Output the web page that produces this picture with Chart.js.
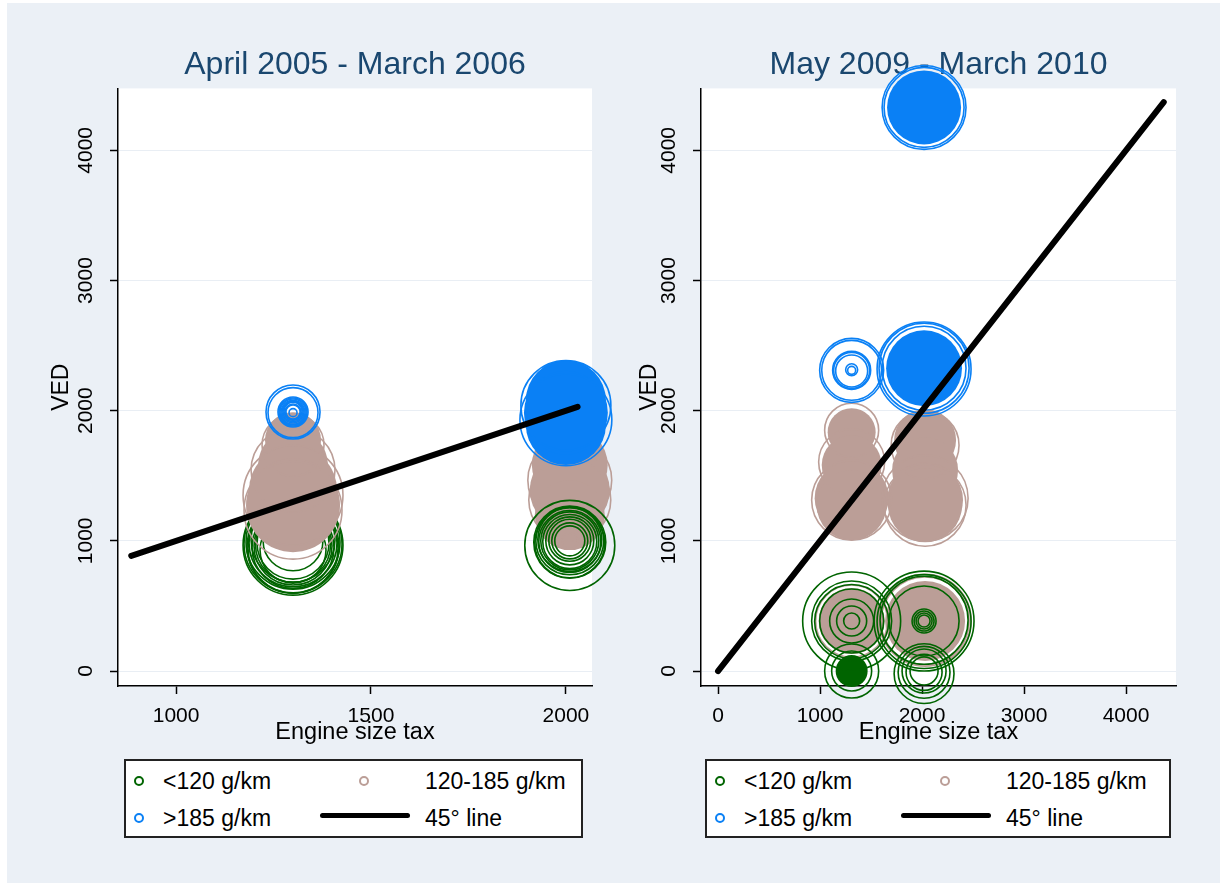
<!DOCTYPE html>
<html>
<head>
<meta charset="utf-8">
<title>VED against engine size tax</title>
<script src="https://cdn.jsdelivr.net/npm/chart.js@4.4.1/dist/chart.umd.min.js"></script>
<style>
  body { margin: 0; background: #fff; font-family: "Liberation Sans", Arial, sans-serif; }
  #page { position: absolute; left: 7px; top: 3px; width: 1213px; height: 880px; background: #ebf0f6; }
  canvas { position: absolute; top: 3px; }
  .key { position: absolute; top: 759px; height: 79px; background: #fff; border: 2px solid #222; box-sizing: border-box; }
  .key span { position: absolute; font-size: 23px; line-height: 26px; color: #000; white-space: nowrap; }
  .key i { position: absolute; width: 10px; height: 10px; border: 2px solid; border-radius: 50%; box-sizing: border-box; }
  .key b { position: absolute; height: 5px; background: #000; border-radius: 3px; }
</style>
</head>
<body>
<div id="page"></div>
<canvas id="c05" width="612" height="750" style="left:7px"></canvas>
<canvas id="c09" width="594" height="750" style="left:619px"></canvas>
<div class="key" id="key05" style="left:124px;width:459px"></div>
<div class="key" id="key09" style="left:705px;width:466px"></div>
<script>
// axis ticks
const yTicks = [0, 1000, 2000, 3000, 4000];
const xTicks05 = [1000, 1500, 2000];
const xTicks09 = [0, 1000, 2000, 3000, 4000];
const yRange = [-115, 4476];
const xRange05 = [851, 2067];
const xRange09 = [-167, 4490];

// 45 degree reference line, start and end
const line05 = [885, 2030];
const line09 = [0, 4370];

// [engine size tax, VED, weight] per group
// April 2005 - March 2006
const low05Back = [[1300, 967, 156], [1300, 990, 138], [1300, 944, 126.6], [1300, 1006, 110],
  [1300, 960, 95], [1300, 983, 81], [1300, 929, 68], [1300, 1000, 56],
  [1300, 975, 150], [1300, 955, 132], [1300, 985, 121], [1300, 950, 105], [1300, 970, 88]];
const mid05Fill = [[1300, 1773, 49], [1300, 1582, 76.6], [1300, 1390, 121], [1300, 1274, 138],
  [2010, 1582, 90], [2010, 1390, 100], [2010, 1198, 76.6]];
const mid05Rings = [[1300, 1351, 156], [1300, 1735, 60], [1300, 1543, 110], [1300, 1236, 150],
  [2010, 1466, 110], [2010, 1313, 105], [2010, 1000, 4]];
const low05Front = [[2010, 965, 126.6], [2010, 990, 81], [2010, 1000, 72], [2010, 1010, 64],
  [2010, 1000, 52.6], [2010, 995, 45.6], [2010, 1000, 36], [2010, 1005, 27.6], [2010, 1000, 20.25],
  [2010, 1000, 14.1], [2010, 985, 76.6], [2010, 995, 60]];
const high05Fill = [[2000, 2080, 100], [2000, 1890, 100], [2000, 1985, 110]];
const high05Rings = [[1300, 1990, 45.6], [1300, 1985, 39], [1300, 1990, 14.1], [1300, 1990, 12.25],
  [1300, 1990, 10.6], [1300, 1988, 9], [1300, 1990, 7.6], [1300, 1992, 6.25], [1300, 1995, 5.1],
  [1300, 1990, 4], [1300, 1990, 3.1], [1300, 1985, 1],
  [2000, 2040, 126.6], [2000, 1930, 132]];

// May 2009 - March 2010
const mid09Fill = [[1310, 1835, 36], [1310, 1582, 56], [1310, 1328, 85.6], [1310, 1274, 76.6],
  [2030, 1774, 60], [2030, 1543, 68], [2030, 1313, 90], [2030, 1274, 85.6],
  [1310, 384, 68], [2030, 384, 100]];
const mid09Rings = [[1310, 1850, 45.6], [1310, 1313, 100], [1310, 1605, 68],
  [2030, 1274, 105], [2030, 1328, 115.6], [2030, 1735, 72],
  [1310, 384, 81], [2030, 384, 121], [2030, 390, 132]];
const low09Fill = [[1310, 0, 16]];
const low09Rings = [[1310, 384, 150], [1310, 384, 100], [1310, 380, 85.6], [1310, 384, 64],
  [1310, 384, 30.25], [1310, 384, 14.1], [1310, 384, 4],
  [1310, 0, 45.6], [1310, 0, 25],
  [2020, 384, 156], [2020, 380, 138], [2020, 390, 121], [2020, 384, 76.6], [2020, 384, 9],
  [2020, 384, 6.25], [2020, 384, 4], [2020, 384, 2.25],
  [2020, -20, 56], [2020, -10, 42], [2020, 0, 30.25], [2020, -10, 20.25], [2020, 0, 12.25]];
const high09Fill = [[2020, 2326, 90], [2020, 4330, 85.6]];
const high09Rings = [[1310, 2310, 64], [1310, 2310, 56], [1310, 2310, 22.6], [1310, 2310, 20.25],
  [1310, 2305, 16], [1310, 2315, 2.25], [1310, 2310, 1],
  [2020, 2326, 110], [2020, 2326, 126.6], [2020, 2320, 138],
  [2020, 4330, 100], [2020, 4330, 110]];

const keyLabels = ['<120 g/km', '120-185 g/km', '>185 g/km', '45\u00b0 line'];

const green = '#006400', rose = '#bb9e97', azure = '#0a80f5';
Chart.defaults.font.family = '"Liberation Sans", Arial, sans-serif';

// marker area grows with the weight
const radius = w => 4 * Math.sqrt(w);

function bubbles(rows, colour, filled, order) {
  return {
    type: 'bubble', order, clip: false,
    data: rows.map(([x, y, w]) => ({ x, y, r: radius(w) })),
    backgroundColor: filled ? colour : 'rgba(0,0,0,0)',
    borderColor: colour,
    borderWidth: filled ? 0 : 1.6
  };
}

function diagonal(ends) {
  return {
    type: 'line', order: 0, clip: false,
    data: ends.map(v => ({ x: v, y: v })),
    borderColor: '#000', borderWidth: 6, borderCapStyle: 'round',
    pointRadius: 0, fill: false
  };
}

// white plot region
const plotBg = {
  id: 'plotBg',
  beforeDraw(chart) {
    const { ctx, chartArea: a } = chart;
    ctx.save();
    ctx.fillStyle = '#fff';
    ctx.fillRect(a.left, a.top, a.right - a.left, a.bottom - a.top);
    ctx.restore();
  }
};

// fixed axis boxes, no extra room for overhanging labels
const fixSize = (w, h) => s => {
  if (w) s.width = w;
  if (h) s.height = h;
  s.paddingLeft = s.paddingRight = s.paddingTop = s.paddingBottom = 0;
};

function panel(id, title, datasets, xRange, xTicks, yWidth, yTitlePad, rightPad) {
  return new Chart(document.getElementById(id), {
    type: 'bubble',
    data: { datasets },
    options: {
      responsive: false, animation: false, events: [],
      layout: { autoPadding: false, padding: { left: 0, right: rightPad, top: 0, bottom: 0 } },
      plugins: {
        legend: { display: false },
        tooltip: { enabled: false },
        title: {
          display: true, text: title, color: '#1a476f', fullSize: false,
          font: { size: 32, weight: 'normal' }, padding: { top: 43, bottom: 4 }
        }
      },
      scales: {
        x: {
          type: 'linear', min: xRange[0], max: xRange[1],
          afterBuildTicks: s => { s.ticks = xTicks.map(v => ({ value: v })); },
          afterFit: fixSize(0, 67),
          grid: { drawOnChartArea: false, tickLength: 8, tickColor: '#000', tickWidth: 1.5 },
          border: { color: '#000', width: 1.5 },
          ticks: { color: '#000', font: { size: 21 }, padding: 10, maxRotation: 0, callback: v => String(v) },
          title: { display: true, text: 'Engine size tax', color: '#000', font: { size: 23.5 },
            padding: { top: 0, bottom: 6 } }
        },
        y: {
          type: 'linear', min: yRange[0], max: yRange[1],
          afterBuildTicks: s => { s.ticks = yTicks.map(v => ({ value: v })); },
          afterFit: fixSize(yWidth, 0),
          grid: { color: '#e9eef4', lineWidth: 1, tickLength: 8, tickColor: '#000', tickWidth: 1.5 },
          border: { color: '#000', width: 1.5 },
          ticks: { color: '#000', font: { size: 21 }, padding: 0, minRotation: 90, maxRotation: 90,
            crossAlign: 'center', callback: v => String(v) },
          title: { display: true, text: 'VED', color: '#000', font: { size: 23 },
            padding: { top: yTitlePad, bottom: 0 } }
        }
      }
    },
    plugins: [plotBg]
  });
}

panel('c05', 'April 2005 - March 2006', [
  bubbles(low05Back, green, false, 7),
  bubbles(mid05Fill, rose, true, 6),
  bubbles(mid05Rings, rose, false, 5),
  bubbles(low05Front, green, false, 4),
  bubbles(high05Fill, azure, true, 3),
  bubbles(high05Rings, azure, false, 2),
  diagonal(line05)
], xRange05, xTicks05, 111, 41, 27);

panel('c09', 'May 2009 - March 2010', [
  bubbles(mid09Fill, rose, true, 7),
  bubbles(mid09Rings, rose, false, 6),
  bubbles(low09Fill, green, true, 5),
  bubbles(low09Rings, green, false, 4),
  bubbles(high09Fill, azure, true, 3),
  bubbles(high09Rings, azure, false, 2),
  diagonal(line09)
], xRange09, xTicks09, 82, 17, 37);

// legend boxes under each panel
function key(id) {
  const box = document.getElementById(id);
  const markers = [[green, 8, 15], [rose, 233, 15], [azure, 8, 52]];
  markers.forEach(([c, l, t]) => {
    const m = document.createElement('i');
    m.style.cssText = `left:${l}px;top:${t}px;border-color:${c}`;
    box.appendChild(m);
  });
  const bar = document.createElement('b');
  bar.style.cssText = 'left:194px;top:52px;width:90px';
  box.appendChild(bar);
  const spots = [[37, 7], [299, 7], [37, 44], [299, 44]];
  keyLabels.forEach((txt, i) => {
    const s = document.createElement('span');
    s.textContent = txt;
    s.style.left = spots[i][0] + 'px';
    s.style.top = spots[i][1] + 'px';
    box.appendChild(s);
  });
}
key('key05');
key('key09');
</script>
</body>
</html>
